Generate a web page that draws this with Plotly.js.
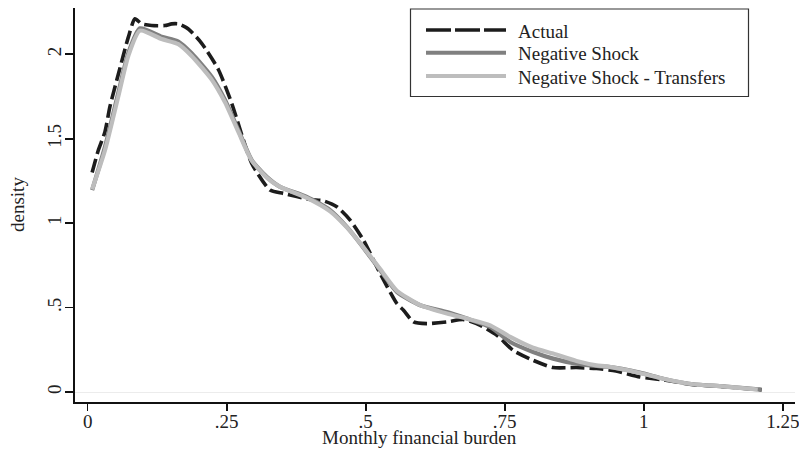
<!DOCTYPE html>
<html>
<head>
<meta charset="utf-8">
<script src="https://cdn.plot.ly/plotly-3.0.1.min.js"></script>
<style>html,body{margin:0;padding:0;background:#fff;}#chart{width:799px;height:450px;}</style>
</head>
<body>
<div id="chart"></div>
<script>
// ---- data ----
const seriesNames = ["Actual", "Negative Shock", "Negative Shock - Transfers"];

const actualX = [0.008, 0.019, 0.031, 0.040, 0.055, 0.073, 0.085, 0.097, 0.115, 0.139, 0.151, 0.163, 0.181, 0.205, 0.235, 0.259, 0.295, 0.328, 0.352, 0.400, 0.424, 0.448, 0.472, 0.496, 0.526, 0.556, 0.568, 0.586, 0.610, 0.646, 0.676, 0.706, 0.736, 0.765, 0.801, 0.837, 0.879, 0.915, 0.950, 0.993, 1.035, 1.089, 1.143, 1.212];
const actualY = [1.30, 1.43, 1.54, 1.69, 1.88, 2.10, 2.21, 2.18, 2.17, 2.17, 2.18, 2.18, 2.15, 2.065, 1.91, 1.71, 1.354, 1.196, 1.176, 1.14, 1.132, 1.097, 1.018, 0.899, 0.702, 0.524, 0.484, 0.415, 0.405, 0.415, 0.429, 0.395, 0.336, 0.247, 0.188, 0.145, 0.145, 0.139, 0.125, 0.089, 0.072, 0.044, 0.032, 0.013];

const shockX = [0.008, 0.031, 0.055, 0.073, 0.094, 0.133, 0.163, 0.187, 0.223, 0.247, 0.271, 0.295, 0.322, 0.346, 0.394, 0.436, 0.466, 0.490, 0.526, 0.556, 0.598, 0.646, 0.682, 0.724, 0.760, 0.801, 0.837, 0.879, 0.915, 0.933, 0.993, 1.035, 1.089, 1.143, 1.212];
const shockY = [1.195, 1.45, 1.77, 2.006, 2.154, 2.104, 2.075, 2.006, 1.867, 1.729, 1.551, 1.373, 1.274, 1.215, 1.156, 1.077, 0.978, 0.880, 0.721, 0.593, 0.514, 0.474, 0.435, 0.385, 0.296, 0.237, 0.198, 0.168, 0.154, 0.150, 0.115, 0.079, 0.046, 0.034, 0.014];

const transferX = [0.008, 0.031, 0.055, 0.073, 0.094, 0.133, 0.163, 0.187, 0.223, 0.247, 0.271, 0.295, 0.322, 0.346, 0.394, 0.436, 0.466, 0.490, 0.526, 0.556, 0.598, 0.646, 0.682, 0.724, 0.760, 0.801, 0.837, 0.879, 0.915, 0.933, 0.993, 1.035, 1.089, 1.143, 1.205];
const transferY = [1.20, 1.43, 1.75, 1.99, 2.14, 2.09, 2.06, 1.99, 1.85, 1.715, 1.54, 1.37, 1.27, 1.215, 1.15, 1.07, 0.975, 0.882, 0.728, 0.600, 0.515, 0.465, 0.435, 0.395, 0.326, 0.262, 0.228, 0.184, 0.158, 0.152, 0.113, 0.079, 0.046, 0.034, 0.015];

const xTickVals = [0, 0.25, 0.5, 0.75, 1, 1.25];
const xTickText = ["0", ".25", ".5", ".75", "1", "1.25"];
const yTickVals = [0, 0.5, 1, 1.5, 2];
const yTickText = ["0", ".5", "1", "1.5", "2"];

const xTitle = "Monthly financial burden";
const yTitle = "density";

// ---- styling ----
const FONT = "'Liberation Serif', 'Times New Roman', serif";
const TXT = "#222222";
const colors = ["#1c1c1c", "#808080", "#bdbdbd"];

const W = 799, H = 450;
const M = {l: 75, r: 4, t: 8, b: 48};
const PW = W - M.l - M.r, PH = H - M.t - M.b;
const px2x = p => (p - M.l) / PW;
const py2y = p => (H - M.b - p) / PH;

const traces = [
  {x: actualX, y: actualY, name: seriesNames[0], type: "scatter", mode: "lines",
   line: {color: colors[0], width: 3.6, dash: "14px,5px", shape: "spline", smoothing: 0.6}},
  {x: shockX, y: shockY, name: seriesNames[1], type: "scatter", mode: "lines",
   line: {color: colors[1], width: 4.2, shape: "spline", smoothing: 0.6}},
  {x: transferX, y: transferY, name: seriesNames[2], type: "scatter", mode: "lines",
   line: {color: colors[2], width: 4.2, shape: "spline", smoothing: 0.6}}
];

// custom legend (box, line samples, labels)
const legRows = [30, 52.7, 76];
const shapes = [
  {type: "rect", xref: "paper", yref: "paper",
   x0: px2x(410.5), x1: px2x(748.5), y0: py2y(96.5), y1: py2y(9),
   line: {color: "#333333", width: 1.2}, fillcolor: "#ffffff"}
];
const legDash = ["25px,4px", "solid", "solid"];
const legWidth = [3.6, 4, 4];
const annotations = [];
legRows.forEach((py, i) => {
  shapes.push({type: "line", xref: "paper", yref: "paper",
    x0: px2x(426), x1: px2x(506), y0: py2y(py), y1: py2y(py),
    line: {color: colors[i], width: legWidth[i], dash: legDash[i]}});
  annotations.push({xref: "paper", yref: "paper", x: px2x(516), y: py2y(py + 1),
    xanchor: "left", yanchor: "middle", showarrow: false, text: seriesNames[i],
    font: {family: FONT, size: 19, color: TXT}});
});
annotations.push({xref: "paper", yref: "paper", x: px2x(419), y: py2y(437),
  xanchor: "center", yanchor: "middle", showarrow: false, text: xTitle,
  font: {family: FONT, size: 19, color: TXT}});
annotations.push({xref: "paper", yref: "paper", x: px2x(17), y: py2y(204),
  xanchor: "center", yanchor: "middle", showarrow: false, text: yTitle, textangle: -90,
  font: {family: FONT, size: 19, color: TXT}});

const layout = {
  width: W, height: H,
  margin: M,
  paper_bgcolor: "#ffffff", plot_bgcolor: "#ffffff",
  showlegend: false,
  font: {family: FONT, size: 19, color: TXT},
  xaxis: {
    range: [-0.0228, 1.272], tickvals: xTickVals, ticktext: xTickText,
    showline: true, linecolor: "#111111", linewidth: 2,
    ticks: "outside", ticklen: 7, tickwidth: 1.6, tickcolor: "#111111",
    ticklabelstandoff: -6, ticklabeloverflow: "allow", automargin: false,
    showgrid: false, zeroline: false,
    tickfont: {family: FONT, size: 19, color: TXT}
  },
  yaxis: {
    range: [-0.059, 2.274], tickvals: yTickVals, ticktext: yTickText,
    tickangle: -90, automargin: false,
    showline: true, linecolor: "#111111", linewidth: 2,
    ticks: "outside", ticklen: 8, tickwidth: 1.6, tickcolor: "#111111",
    ticklabelstandoff: -4,
    showgrid: false, zeroline: true, zerolinecolor: "#ececec", zerolinewidth: 1,
    tickfont: {family: FONT, size: 19, color: TXT}
  },
  shapes: shapes,
  annotations: annotations
};

Plotly.newPlot("chart", traces, layout, {staticPlot: true, displayModeBar: false});
</script>
</body>
</html>
